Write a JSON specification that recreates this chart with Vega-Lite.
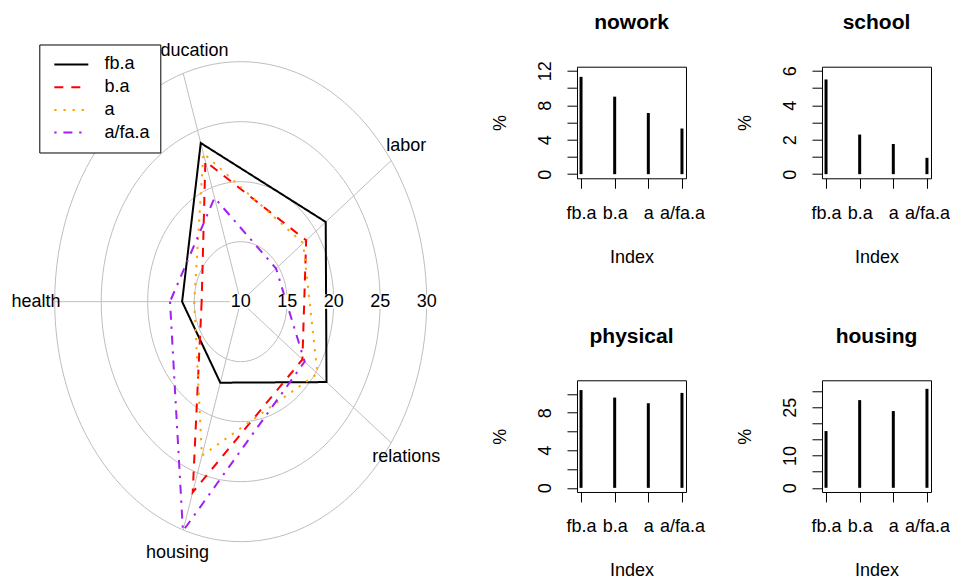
{
  "$schema": "https://vega.github.io/schema/vega-lite/v6.json",
  "background": "white",
  "padding": {"left": 0, "top": 10.7, "right": 0, "bottom": 0},
  "datasets": {
    "radar": [
      {"group": "fb.a", "var": "health", "value": 16.3},
      {"group": "fb.a", "var": "housing", "value": 17.1},
      {"group": "fb.a", "var": "relations", "value": 21.4},
      {"group": "fb.a", "var": "labor", "value": 21.3},
      {"group": "fb.a", "var": "education", "value": 23.9},
      {"group": "b.a", "var": "health", "value": 14.2},
      {"group": "b.a", "var": "housing", "value": 26.7},
      {"group": "b.a", "var": "relations", "value": 18.2},
      {"group": "b.a", "var": "labor", "value": 18.7},
      {"group": "b.a", "var": "education", "value": 22.3},
      {"group": "a", "var": "health", "value": 15.0},
      {"group": "a", "var": "housing", "value": 23.5},
      {"group": "a", "var": "relations", "value": 20.2},
      {"group": "a", "var": "labor", "value": 18.3},
      {"group": "a", "var": "education", "value": 23.0},
      {"group": "a/fa.a", "var": "health", "value": 17.6},
      {"group": "a/fa.a", "var": "housing", "value": 30.1},
      {"group": "a/fa.a", "var": "relations", "value": 18.5},
      {"group": "a/fa.a", "var": "labor", "value": 14.7},
      {"group": "a/fa.a", "var": "education", "value": 19.1}
    ],
    "spokes": [
      {"var": "health"}, {"var": "housing"}, {"var": "relations"}, {"var": "labor"}, {"var": "education"}
    ],
    "rings": [{"ring": 10}, {"ring": 15}, {"ring": 20}, {"ring": 25}, {"ring": 30}],
    "bars": [
      {"var": "nowork", "group": "fb.a", "value": 11.3},
      {"var": "nowork", "group": "b.a", "value": 9.0},
      {"var": "nowork", "group": "a", "value": 7.1},
      {"var": "nowork", "group": "a/fa.a", "value": 5.3},
      {"var": "school", "group": "fb.a", "value": 5.5},
      {"var": "school", "group": "b.a", "value": 2.3},
      {"var": "school", "group": "a", "value": 1.75},
      {"var": "school", "group": "a/fa.a", "value": 0.95},
      {"var": "physical", "group": "fb.a", "value": 10.4},
      {"var": "physical", "group": "b.a", "value": 9.6},
      {"var": "physical", "group": "a", "value": 9.0},
      {"var": "physical", "group": "a/fa.a", "value": 10.1},
      {"var": "housing", "group": "fb.a", "value": 17.6},
      {"var": "housing", "group": "b.a", "value": 27.2},
      {"var": "housing", "group": "a", "value": 23.8},
      {"var": "housing", "group": "a/fa.a", "value": 30.7}
    ]
  },
  "config": {
    "font": "Liberation Sans",
    "view": {"stroke": "black", "strokeWidth": 1},
    "axis": {
      "grid": false, "domain": false, "ticks": true, "tickColor": "black", "tickSize": 10, "tickWidth": 1,
      "labelColor": "black", "titleColor": "black", "labelFontSize": 18, "titleFontSize": 18,
      "titleFontWeight": "normal", "labelFont": "Liberation Sans", "titleFont": "Liberation Sans"
    },
    "title": {"fontSize": 21, "fontWeight": "bold", "color": "black", "font": "Liberation Sans", "frame": "group", "anchor": "middle", "offset": 28}
  },
  "bounds": "flush",
  "spacing": 97,
  "hconcat": [
    {
      "width": 480,
      "height": 425.3,
      "view": {"stroke": null},
      "layer": [
        {
          "data": {"name": "rings"},
          "transform": [{"filter": "datum.ring > 10"}, {"calculate": "datum.ring - 10", "as": "r"}, {"calculate": "0", "as": "c"}],
          "mark": {"type": "point", "shape": "M-0.775,0A0.775,1,0,1,0,0.775,0A0.775,1,0,1,0,-0.775,0Z", "filled": false, "stroke": "#BEBEBE", "strokeWidth": 1, "opacity": 1},
          "encoding": {
            "x": {"field": "c", "type": "quantitative", "scale": {"domain": [-25.88, 25.73], "nice": false, "zero": false}, "axis": null},
            "y": {"field": "c", "type": "quantitative", "scale": {"domain": [-15.86, 19.58], "nice": false, "zero": false}, "axis": null},
            "size": {"field": "r", "type": "quantitative", "scale": {"type": "pow", "exponent": 2, "domain": [0, 20], "range": [0, 230400]}, "legend": null}
          }
        },
        {
          "data": {"name": "spokes"},
          "transform": [
            {"calculate": "(180 + 72 * indexof(['health','housing','relations','labor','education'], datum.var)) * PI / 180", "as": "ang"},
            {"calculate": "20 * cos(datum.ang)", "as": "ex"},
            {"calculate": "20 * sin(datum.ang)", "as": "ey"},
            {"calculate": "0", "as": "c"}
          ],
          "mark": {"type": "rule", "color": "#BEBEBE", "strokeWidth": 1},
          "encoding": {
            "x": {"field": "c", "type": "quantitative"},
            "y": {"field": "c", "type": "quantitative"},
            "x2": {"field": "ex"},
            "y2": {"field": "ey"}
          }
        },
        {
          "data": {"name": "radar"},
          "transform": [
            {"calculate": "indexof(['health','housing','relations','labor','education'], datum.var)", "as": "idx"},
            {"calculate": "(180 + 72 * datum.idx) * PI / 180", "as": "ang"},
            {"calculate": "(datum.value - 10) * cos(datum.ang)", "as": "px"},
            {"calculate": "(datum.value - 10) * sin(datum.ang)", "as": "py"}
          ],
          "mark": {"type": "line", "interpolate": "linear-closed", "strokeWidth": 2},
          "encoding": {
            "x": {"field": "px", "type": "quantitative"},
            "y": {"field": "py", "type": "quantitative"},
            "order": {"field": "idx", "type": "quantitative"},
            "color": {
              "field": "group", "type": "nominal",
              "scale": {"domain": ["fb.a", "b.a", "a", "a/fa.a"], "range": ["#000000", "#FF0000", "#FFA500", "#A020F0"]},
              "legend": {"orient": "none", "legendX": 39.3, "legendY": -22.2, "title": null, "fillColor": "white", "strokeColor": "black", "padding": 10.5, "symbolType": "M-2,0H2", "symbolSize": 289, "symbolStrokeWidth": 2, "symbolOffset": 12, "labelFontSize": 18, "labelOffset": 23.8, "rowPadding": 3.7, "labelColor": "black", "labelFont": "Liberation Sans", "cornerRadius": 0}
            },
            "strokeDash": {
              "field": "group", "type": "nominal",
              "scale": {"domain": ["fb.a", "b.a", "a", "a/fa.a"], "range": [[1, 0], [9, 8], [2.3, 6.8], [2.3, 6.8, 9, 6.8]]},
              "legend": {"orient": "none", "legendX": 39.3, "legendY": -22.2, "title": null, "fillColor": "white", "strokeColor": "black", "padding": 10.5, "symbolType": "M-2,0H2", "symbolSize": 289, "symbolStrokeWidth": 2, "symbolOffset": 12, "labelFontSize": 18, "labelOffset": 23.8, "rowPadding": 3.7, "labelColor": "black", "labelFont": "Liberation Sans", "cornerRadius": 0}
            }
          }
        },
        {
          "data": {"name": "rings"},
          "transform": [{"calculate": "datum.ring - 10", "as": "r"}, {"calculate": "0", "as": "c"}],
          "mark": {"type": "point", "shape": "M-1,-0.65H1V0.65H-1Z", "filled": true, "fill": "white", "opacity": 1, "size": 484},
          "encoding": {
            "x": {"field": "r", "type": "quantitative"},
            "y": {"field": "c", "type": "quantitative"}
          }
        },
        {
          "data": {"name": "rings"},
          "transform": [{"calculate": "datum.ring - 10", "as": "r"}, {"calculate": "0", "as": "c"}],
          "mark": {"type": "text", "fontSize": 18, "color": "black", "align": "center", "baseline": "middle"},
          "encoding": {
            "x": {"field": "r", "type": "quantitative"},
            "y": {"field": "c", "type": "quantitative"},
            "text": {"field": "ring", "type": "quantitative"}
          }
        },
        {
          "data": {"name": "spokes"},
          "transform": [
            {"filter": "datum.var != 'education'"},
            {"calculate": "(180 + 72 * indexof(['health','housing','relations','labor','education'], datum.var)) * PI / 180", "as": "ang"},
            {"calculate": "22 * cos(datum.ang)", "as": "lx"},
            {"calculate": "22 * sin(datum.ang)", "as": "ly"}
          ],
          "mark": {"type": "text", "fontSize": 18, "color": "black", "align": "center", "baseline": "middle"},
          "encoding": {
            "x": {"field": "lx", "type": "quantitative"},
            "y": {"field": "ly", "type": "quantitative"},
            "text": {"field": "var"}
          }
        },
        {
          "data": {"name": "spokes"},
          "transform": [
            {"filter": "datum.var == 'education'"},
            {"calculate": "(180 + 72 * indexof(['health','housing','relations','labor','education'], datum.var)) * PI / 180", "as": "ang"},
            {"calculate": "22 * cos(datum.ang)", "as": "lx"},
            {"calculate": "22 * sin(datum.ang)", "as": "ly"}
          ],
          "mark": {"type": "text", "fontSize": 18, "color": "black", "align": "center", "baseline": "middle", "dx": 12},
          "encoding": {
            "x": {"field": "lx", "type": "quantitative"},
            "y": {"field": "ly", "type": "quantitative"},
            "text": {"field": "var"}
          }
        }
      ]
    },
    {
      "bounds": "flush",
      "spacing": 313.6,
      "vconcat": [
        {
          "bounds": "flush",
          "spacing": 136,
          "hconcat": [
            {
              "width": 109, "height": 111.6,
              "title": {"text": "nowork", "offset": 28},
              "data": {"name": "bars"},
              "transform": [{"filter": "datum.var == 'nowork'"}],
              "mark": {"type": "rule", "strokeWidth": 3, "color": "black"},
              "encoding": {
                "x": {"field": "group", "type": "nominal", "sort": ["fb.a", "b.a", "a", "a/fa.a"], "scale": {"type": "point", "padding": 0.12, "domain": ["fb.a", "b.a", "a", "a/fa.a"]}, "axis": {"title": "Index", "labelAngle": 0, "labelPadding": 16, "titlePadding": 26}},
                "y": {"field": "value", "type": "quantitative", "scale": {"domain": [-0.48, 12.48], "nice": false, "zero": false}, "axis": {"title": "%", "values": [0, 2, 4, 6, 8, 10, 12], "labelExpr": "datum.value % 4 == 0 ? datum.label : ''", "labelAngle": -90, "labelAlign": "center", "labelBaseline": "bottom", "labelPadding": 12, "titlePadding": 27}},
                "y2": {"datum": 0}
              }
            },
            {
              "width": 109, "height": 111.6,
              "title": {"text": "school", "offset": 33},
              "data": {"name": "bars"},
              "transform": [{"filter": "datum.var == 'school'"}],
              "mark": {"type": "rule", "strokeWidth": 3, "color": "black"},
              "encoding": {
                "x": {"field": "group", "type": "nominal", "sort": ["fb.a", "b.a", "a", "a/fa.a"], "scale": {"type": "point", "padding": 0.12, "domain": ["fb.a", "b.a", "a", "a/fa.a"]}, "axis": {"title": "Index", "labelAngle": 0, "labelPadding": 16, "titlePadding": 26}},
                "y": {"field": "value", "type": "quantitative", "scale": {"domain": [-0.24, 6.24], "nice": false, "zero": false}, "axis": {"title": "%", "values": [0, 1, 2, 3, 4, 5, 6], "labelExpr": "datum.value % 2 == 0 ? datum.label : ''", "labelAngle": -90, "labelAlign": "center", "labelBaseline": "bottom", "labelPadding": 12, "titlePadding": 27}},
                "y2": {"datum": 0}
              }
            }
          ]
        },
        {
          "bounds": "flush",
          "spacing": 136,
          "hconcat": [
            {
              "width": 109, "height": 111.7,
              "title": {"text": "physical", "offset": 33.7},
              "data": {"name": "bars"},
              "transform": [{"filter": "datum.var == 'physical'"}],
              "mark": {"type": "rule", "strokeWidth": 3, "color": "black"},
              "encoding": {
                "x": {"field": "group", "type": "nominal", "sort": ["fb.a", "b.a", "a", "a/fa.a"], "scale": {"type": "point", "padding": 0.12, "domain": ["fb.a", "b.a", "a", "a/fa.a"]}, "axis": {"title": "Index", "labelAngle": 0, "labelPadding": 16, "titlePadding": 26}},
                "y": {"field": "value", "type": "quantitative", "scale": {"domain": [-0.44, 11.44], "nice": false, "zero": false}, "axis": {"title": "%", "values": [0, 2, 4, 6, 8, 10], "labelExpr": "datum.value % 4 == 0 ? datum.label : ''", "labelAngle": -90, "labelAlign": "center", "labelBaseline": "bottom", "labelPadding": 12, "titlePadding": 27}},
                "y2": {"datum": 0}
              }
            },
            {
              "width": 109, "height": 111.7,
              "title": {"text": "housing", "offset": 33.7},
              "data": {"name": "bars"},
              "transform": [{"filter": "datum.var == 'housing'"}],
              "mark": {"type": "rule", "strokeWidth": 3, "color": "black"},
              "encoding": {
                "x": {"field": "group", "type": "nominal", "sort": ["fb.a", "b.a", "a", "a/fa.a"], "scale": {"type": "point", "padding": 0.12, "domain": ["fb.a", "b.a", "a", "a/fa.a"]}, "axis": {"title": "Index", "labelAngle": 0, "labelPadding": 16, "titlePadding": 26}},
                "y": {"field": "value", "type": "quantitative", "scale": {"domain": [-1.3, 33.35], "nice": false, "zero": false}, "axis": {"title": "%", "values": [0, 5, 10, 15, 20, 25, 30], "labelExpr": "datum.value == 0 || datum.value == 10 || datum.value == 25 ? datum.label : ''", "labelAngle": -90, "labelAlign": "center", "labelBaseline": "bottom", "labelPadding": 12, "titlePadding": 27}},
                "y2": {"datum": 0}
              }
            }
          ]
        }
      ]
    }
  ]
}
